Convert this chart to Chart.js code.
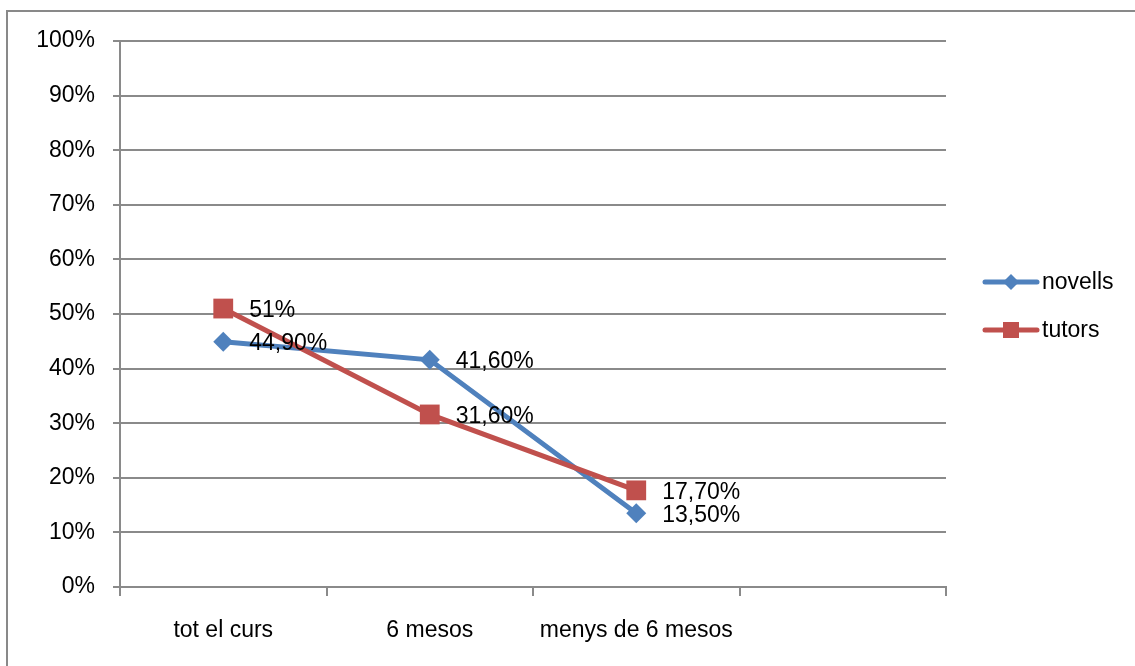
<!DOCTYPE html>
<html>
<head>
<meta charset="utf-8">
<script src="https://cdn.jsdelivr.net/npm/chart.js@4/dist/chart.umd.min.js"></script>
<style>
  html, body { margin: 0; padding: 0; background: #fff; }
  #wrap { position: absolute; left: 0; top: 0; width: 1135px; height: 666px; }
</style>
</head>
<body>
<div id="wrap"><canvas id="myChart" width="1135" height="666"></canvas></div>
<script>
const categories = ['tot el curs', '6 mesos', 'menys de 6 mesos', ''];
const novells = [44.9, 41.6, 13.5, null];
const tutors = [51, 31.6, 17.7, null];
const yTicks = [0, 10, 20, 30, 40, 50, 60, 70, 80, 90, 100];

const FONT = '"Liberation Sans", Arial, sans-serif';
const BLUE = '#4F81BD';
const RED = '#C0504D';
const GRID = '#8a8a8a';

function pct(v) {
    if (Number.isInteger(v)) return v + '%';
    return v.toFixed(2).replace('.', ',') + '%';
}

// frame around the chart (only left / top edges are visible)
const framePlugin = {
    id: 'frame',
    beforeDraw(chart) {
        const c = chart.ctx;
        c.save();
        c.strokeStyle = '#898989';
        c.lineWidth = 2;
        c.beginPath();
        c.moveTo(7, 700);
        c.lineTo(7, 11);
        c.lineTo(1200, 11);
        c.stroke();
        c.restore();
    }
};

// value labels to the right of each point
const valueLabels = {
    id: 'valueLabels',
    afterDatasetsDraw(chart) {
        const c = chart.ctx;
        c.save();
        c.font = '23px ' + FONT;
        c.fillStyle = '#000';
        c.textAlign = 'left';
        c.textBaseline = 'middle';
        chart.data.datasets.forEach((ds, i) => {
            chart.getDatasetMeta(i).data.forEach((pt, j) => {
                const v = ds.data[j];
                if (v == null) return;
                c.fillText(pct(v), pt.x + 26, pt.y + 2);
            });
        });
        c.restore();
    }
};

// legend on the right: line + marker + name
const sideLegend = {
    id: 'sideLegend',
    afterDraw(chart) {
        const c = chart.ctx;
        const items = [
            { name: 'novells', color: BLUE, style: 'diamond', y: 282 },
            { name: 'tutors', color: RED, style: 'square', y: 330 }
        ];
        c.save();
        items.forEach(it => {
            c.strokeStyle = it.color;
            c.fillStyle = it.color;
            c.lineWidth = 5;
            c.lineCap = 'round';
            c.beginPath();
            c.moveTo(985, it.y);
            c.lineTo(1037, it.y);
            c.stroke();
            c.beginPath();
            if (it.style === 'diamond') {
                c.moveTo(1011 - 8, it.y);
                c.lineTo(1011, it.y - 8);
                c.lineTo(1011 + 8, it.y);
                c.lineTo(1011, it.y + 8);
                c.closePath();
                c.fill();
            } else {
                c.fillRect(1003, it.y - 8, 16, 16);
            }
            c.fillStyle = '#000';
            c.font = '23px ' + FONT;
            c.textAlign = 'left';
            c.textBaseline = 'middle';
            c.fillText(it.name, 1042, it.y + 1);
        });
        c.restore();
    }
};

const ctx = document.getElementById('myChart');

const myChart = new Chart(ctx, {
    type: 'line',
    data: {
        labels: categories,
        datasets: [{
            label: 'novells',
            data: novells,
            borderColor: BLUE,
            backgroundColor: BLUE,
            borderWidth: 5,
            pointStyle: 'rectRot',
            pointRadius: 10,
            pointBorderWidth: 0,
            pointBackgroundColor: BLUE,
            tension: 0,
            order: 1
        }, {
            label: 'tutors',
            data: tutors,
            borderColor: RED,
            backgroundColor: RED,
            borderWidth: 5,
            pointStyle: 'rect',
            pointRadius: 14,
            pointBorderWidth: 0,
            pointBackgroundColor: RED,
            tension: 0,
            order: 0
        }]
    },
    options: {
        responsive: false,
        animation: false,
        events: [],
        layout: {
            padding: { left: 0, top: 41, right: 189, bottom: 0 }
        },
        plugins: {
            legend: { display: false },
            tooltip: { enabled: false }
        },
        scales: {
            x: {
                offset: true,
                grid: {
                    offset: true,
                    drawOnChartArea: false,
                    drawTicks: true,
                    tickLength: 9,
                    color: GRID,
                    lineWidth: 2
                },
                border: { display: true, color: GRID, width: 2 },
                ticks: {
                    color: '#000',
                    font: { family: FONT, size: 23 },
                    padding: 21,
                    maxRotation: 0,
                    autoSkip: false
                },
                afterFit(scale) { scale.height = 79; }
            },
            y: {
                min: 0,
                max: 100,
                afterBuildTicks(scale) {
                    scale.ticks = yTicks.map(v => ({ value: v }));
                },
                grid: {
                    color: GRID,
                    lineWidth: 2,
                    drawTicks: true,
                    tickLength: 7
                },
                border: { display: true, color: GRID, width: 2 },
                ticks: {
                    color: '#000',
                    font: { family: FONT, size: 23 },
                    padding: 18,
                    callback: v => v + '%'
                },
                afterFit(scale) { scale.width = 120; }
            }
        }
    },
    plugins: [framePlugin, valueLabels, sideLegend]
});
</script>
</body>
</html>
